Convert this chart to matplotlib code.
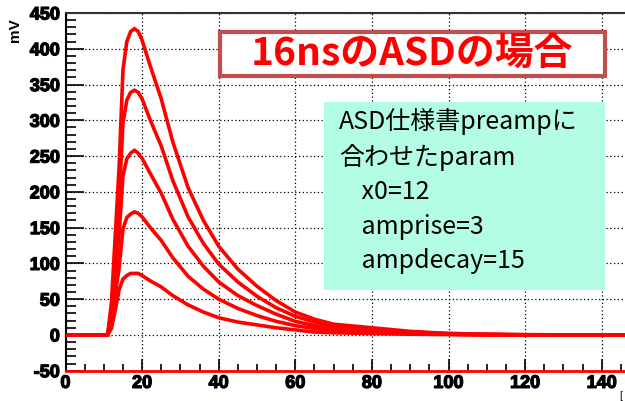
import matplotlib.pyplot as plt
import matplotlib.patheffects as pe
from matplotlib.ticker import MultipleLocator

t = [0, 11, 12, 13, 14, 15, 16, 17, 18, 19, 20, 22, 25, 28, 32, 36, 40,
     45, 50, 55, 60, 65, 70, 80, 90, 100, 110, 120, 130, 150]
amp5 = [0, 0, 45, 140, 235, 370, 410, 424, 428, 424, 412, 378, 330, 270, 206,
        160, 124, 92, 68, 48, 32, 22, 15, 10, 5, 2, 1, 0.5, 0, 0]
amp4 = [0, 0, 36, 112, 188, 296, 328, 339, 342, 339, 330, 302, 264, 216, 165,
        128, 99, 74, 54, 38, 26, 18, 12, 7, 4, 2, 1, 0, 0, 0]
amp3 = [0, 0, 27, 84, 141, 222, 246, 254, 258, 254, 247, 227, 198, 162, 124,
        96, 74, 55, 41, 29, 19, 13, 9, 5, 2, 1, 0.5, 0, 0, 0]
amp2 = [0, 0, 18, 56, 94, 148, 164, 169, 172, 170, 165, 151, 132, 108, 82,
        64, 50, 37, 27, 19, 13, 9, 6, 3, 2, 1, 0, 0, 0, 0]
amp1 = [0, 0, 9, 35, 63, 78, 83, 86, 86, 86, 83, 76, 67, 55, 42, 32, 24,
        18, 14, 10, 7, 4, 3, 2, 1, 0.5, 0, 0, 0, 0]
curves = [amp1, amp2, amp3, amp4, amp5]

xticks = [0, 20, 40, 60, 80, 100, 120, 140]
yticks = [-50, 0, 50, 100, 150, 200, 250, 300, 350, 400, 450]

title = "16nsのASDの場合"
note = "ASD仕様書preampに\n合わせたparam\n    x0=12\n    amprise=3\n    ampdecay=15"

plt.rcParams["font.family"] = ["Liberation Sans"]

fig = plt.figure(figsize=(6.25, 4.01), dpi=100)
ax = fig.add_axes([65.5 / 625, 30.3 / 401, 574.5 / 625, 357.7 / 401])

for c in curves:
    ax.plot(t, c, color="#ff0000", lw=2.6, solid_joinstyle="miter", zorder=3)

ax.set_xlim(0, 150)
ax.set_ylim(-50, 450)
ax.set_xticks(xticks, [str(v) for v in xticks], fontweight="bold", fontsize=13)
ax.set_yticks(yticks, [str(v) for v in yticks], fontweight="bold", fontsize=13)
ax.xaxis.set_minor_locator(MultipleLocator(5))
ax.yaxis.set_minor_locator(MultipleLocator(10))
ax.tick_params(which="both", direction="in", color="black", width=1.2)
ax.tick_params(axis="y", which="major", length=13)
ax.tick_params(axis="y", which="minor", length=7)
ax.tick_params(axis="x", which="major", length=9)
ax.tick_params(axis="x", which="minor", length=5)
ax.tick_params(axis="x", pad=3)
ax.tick_params(axis="y", pad=4)
ax.grid(True, which="major", color="black", ls=(0, (1, 2)), lw=0.9)
# ROOT-style heavy tick labels
for lab in ax.get_xticklabels() + ax.get_yticklabels():
    lab.set_path_effects([pe.withStroke(linewidth=0.9, foreground="black")])

ax.spines["right"].set_visible(False)
ax.spines["top"].set_color("#333333")
ax.spines["top"].set_linewidth(1.5)
ax.spines["left"].set_linewidth(1.5)
ax.spines["bottom"].set_color("#ff0000")
ax.spines["bottom"].set_linewidth(2)

fig.text(15 / 625, 1 - 30 / 401, "mV", rotation=90, ha="center", va="center",
         fontweight="bold", fontsize=11)
fig.text(619 / 625, 1 - 396 / 401, "[", ha="left", va="center", fontsize=7)

cjk = ["Noto Sans CJK JP", "DejaVu Sans"]
fig.text(412 / 625, 1 - 53.5 / 401, title, ha="center", va="center",
         fontfamily=cjk, fontweight="bold", fontsize=28, color="#ff0000", zorder=6)
box = plt.Rectangle((220 / 625, 1 - 76 / 401), 385 / 625, 44 / 401,
                    transform=fig.transFigure, facecolor="white",
                    edgecolor="#c0504d", lw=3, zorder=5)
fig.patches.append(box)

green = plt.Rectangle((324 / 625, 1 - 290 / 401), 281 / 625, 188 / 401,
                      transform=fig.transFigure, facecolor="#b3fce6",
                      edgecolor="none", zorder=5)
fig.patches.append(green)
fig.text(339 / 625, 1 - 108 / 401, note, ha="left", va="top", fontfamily=cjk,
         fontsize=18, linespacing=1.42, color="black", zorder=6)

fig.savefig("out.png", dpi=100)
